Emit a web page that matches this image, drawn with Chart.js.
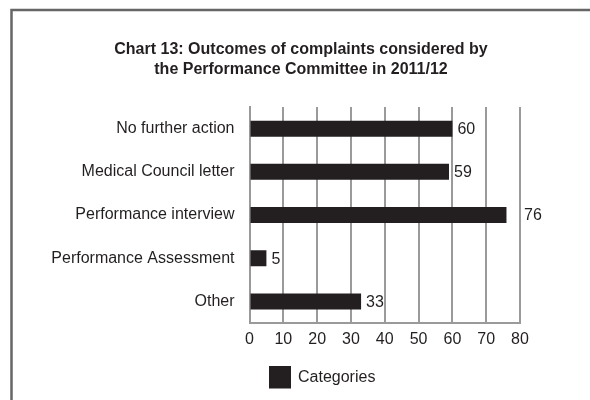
<!DOCTYPE html>
<html>
<head>
<meta charset="utf-8">
<script src="https://cdn.jsdelivr.net/npm/chart.js@4.4.0/dist/chart.umd.min.js"></script>
<style>
  html, body { margin: 0; padding: 0; background: #fff; overflow: hidden; }
  #wrap { position: absolute; left: 0; top: 0; width: 590px; height: 400px; }
</style>
</head>
<body>
<div id="wrap"><canvas id="myChart" width="590" height="400"></canvas></div>
<script>
// chart data
const categories = ['No further action', 'Medical Council letter', 'Performance interview', 'Performance Assessment', 'Other'];
const outcomeCounts = [60, 59, 76, 5, 33];
const seriesName = 'Categories';
const chartTitle = ['Chart 13: Outcomes of complaints considered by', 'the Performance Committee in 2011/12'];

const ink = '#231f20';
const gridGrey = '#9a9a9a';
const fontFamily = '"Liberation Sans", Arial, Helvetica, sans-serif';

// grey frame round the picture (left and top edges show)
const framePlugin = {
  id: 'frame',
  beforeDraw(chart) {
    const c = chart.ctx;
    c.save();
    c.strokeStyle = '#666';
    c.lineWidth = 2.5;
    c.beginPath();
    c.moveTo(11.5, 400);
    c.lineTo(11.5, 10);
    c.lineTo(600, 10);
    c.stroke();
    c.restore();
  }
};

// value labels next to each bar end
const valueLabels = {
  id: 'valueLabels',
  afterDatasetsDraw(chart) {
    const c = chart.ctx;
    const xScale = chart.scales.x;
    const meta = chart.getDatasetMeta(0);
    c.save();
    c.font = '16px ' + fontFamily;
    c.fillStyle = ink;
    c.textBaseline = 'middle';
    meta.data.forEach(function(bar, i) {
      const txt = String(outcomeCounts[i]);
      const w = c.measureText(txt).width;
      let x = bar.x + 5;
      // keep the text off a grid line
      for (let v = 0; v <= 80; v += 10) {
        const gx = xScale.getPixelForValue(v);
        if (gx > x + 2 && gx < x + w - 2) x = gx + 4;
      }
      c.fillText(txt, x, bar.y + 1);
    });
    c.restore();
  }
};

// legend sits left of centre in the original, so it is drawn here
const bottomLegend = {
  id: 'bottomLegend',
  afterDraw(chart) {
    const c = chart.ctx;
    const ds = chart.data.datasets[0];
    c.save();
    c.fillStyle = ds.backgroundColor;
    c.fillRect(269, 366, 22, 22.5);
    c.font = '16px ' + fontFamily;
    c.fillStyle = ink;
    c.textBaseline = 'middle';
    c.fillText(ds.label, 298, 378);
    c.restore();
  }
};

const ctx = document.getElementById('myChart').getContext('2d');
new Chart(ctx, {
  type: 'bar',
  data: {
    labels: categories,
    datasets: [{
      label: seriesName,
      data: outcomeCounts,
      backgroundColor: ink,
      borderWidth: 0,
      barPercentage: 0.37,
      categoryPercentage: 1
    }]
  },
  options: {
    indexAxis: 'y',
    responsive: false,
    animation: false,
    layout: { padding: { left: 12, right: 0, top: 40, bottom: 0 } },
    plugins: {
      title: {
        display: true,
        text: chartTitle,
        color: ink,
        font: { family: fontFamily, size: 16, weight: 'bold', lineHeight: 1.22 },
        padding: { top: 0, bottom: 28 }
      },
      legend: { display: false },
      tooltip: { enabled: false }
    },
    scales: {
      x: {
        min: 0,
        max: 80,
        ticks: { stepSize: 10, color: ink, padding: 7, font: { family: fontFamily, size: 16 } },
        grid: { color: gridGrey, lineWidth: 2, drawTicks: false },
        border: { color: gridGrey, width: 2 },
        afterFit(scale) { scale.height = 77; }
      },
      y: {
        ticks: { color: ink, padding: 15, font: { family: fontFamily, size: 16 } },
        grid: { display: false, drawTicks: false },
        border: { color: gridGrey, width: 2 },
        afterFit(scale) { scale.width = 237.5; }
      },
      // empty right-hand box, keeps the plot narrow without moving the title
      yRight: {
        type: 'linear',
        position: 'right',
        display: true,
        ticks: { display: false },
        grid: { display: false, drawTicks: false },
        border: { display: false },
        afterFit(scale) { scale.width = 70; }
      }
    }
  },
  plugins: [framePlugin, valueLabels, bottomLegend]
});
</script>
</body>
</html>
